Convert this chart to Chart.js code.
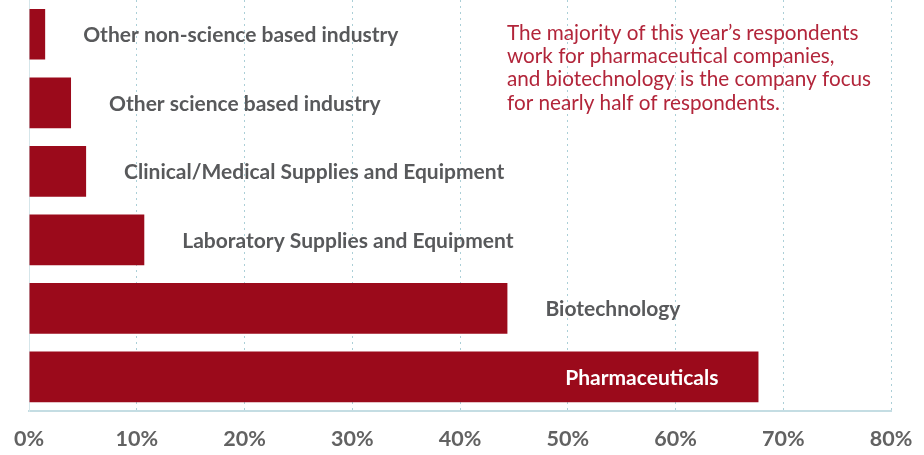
<!DOCTYPE html>
<html>
<head>
<meta charset="utf-8">
<script src="https://cdn.jsdelivr.net/npm/chart.js@4"></script>
<style>
  html, body { margin: 0; padding: 0; background: #ffffff; }
  #wrap { width: 924px; height: 455px; position: relative; }
</style>
</head>
<body>
<div id="wrap"><canvas id="c" width="924" height="455"></canvas></div>
<script>
const categories = [
  "Other non-science based industry",
  "Other science based industry",
  "Clinical/Medical Supplies and Equipment",
  "Laboratory Supplies and Equipment",
  "Biotechnology",
  "Pharmaceuticals"
];
const shares = [1.5, 3.9, 5.3, 10.7, 44.4, 67.7];
const tickValues = [0, 10, 20, 30, 40, 50, 60, 70, 80];
const noteLines = [
  "The majority of this year\u2019s respondents",
  "work for pharmaceutical companies,",
  "and biotechnology is the company focus",
  "for nearly half of respondents."
];
const insideLabels = ["Pharmaceuticals"];

const BAR = '#9b0a1b';
const LABEL = '#58595b';

const labelPlugin = {
  id: 'barLabels',
  afterDatasetsDraw(chart) {
    const ctx = chart.ctx;
    const meta = chart.getDatasetMeta(0);
    ctx.save();
    ctx.font = 'bold 21px Lato';
    ctx.textBaseline = 'middle';
    meta.data.forEach((bar, i) => {
      const name = categories[i];
      if (insideLabels.includes(name)) {
        ctx.fillStyle = '#ffffff';
        ctx.textAlign = 'right';
        ctx.fillText(name, bar.x - 40, bar.y + 1);
      } else {
        ctx.fillStyle = LABEL;
        ctx.textAlign = 'left';
        ctx.fillText(name, bar.x + 38, bar.y + 1);
      }
    });
    // annotation
    ctx.font = '20.7px Lato';
    ctx.fillStyle = '#b2253a';
    ctx.textAlign = 'left';
    noteLines.forEach((t, k) => ctx.fillText(t, 507, 33 + k * 23.4));
    ctx.restore();
  }
};

new Chart(document.getElementById('c'), {
  type: 'bar',
  data: {
    labels: categories,
    datasets: [{
      data: shares,
      backgroundColor: BAR,
      borderWidth: 0,
      categoryPercentage: 1,
      barPercentage: 0.74
    }]
  },
  options: {
    indexAxis: 'y',
    responsive: false,
    animation: false,
    layout: { padding: { left: 29, right: 33, top: 0, bottom: -12 } },
    plugins: { legend: { display: false }, tooltip: { enabled: false } },
    scales: {
      x: {
        min: 0, max: 80,
        z: 1,
        afterBuildTicks(scale) { scale.ticks = tickValues.map(v => ({ value: v })); },
        afterFit(scale) { scale.paddingLeft = 0; scale.paddingRight = 0; },
        grid: {
          color: 'rgba(150,195,205,0.8)',
          lineWidth: 1,
          drawTicks: false
        },
        border: { display: true, color: '#c4dde3', width: 2, dash: [2, 4] },
        ticks: {
          padding: 15,
          font: { family: 'Lato', size: 21.5, weight: 'bold' },
          color: '#626262',
          callback: v => v + '%'
        }
      },
      y: {
        display: true,
        afterFit(scale) { scale.width = 0; },
        grid: { display: false, drawTicks: false },
        border: { display: true, color: '#d5e6ea', width: 1 },
        ticks: { display: false }
      }
    }
  },
  plugins: [labelPlugin]
});
</script>
</body>
</html>
